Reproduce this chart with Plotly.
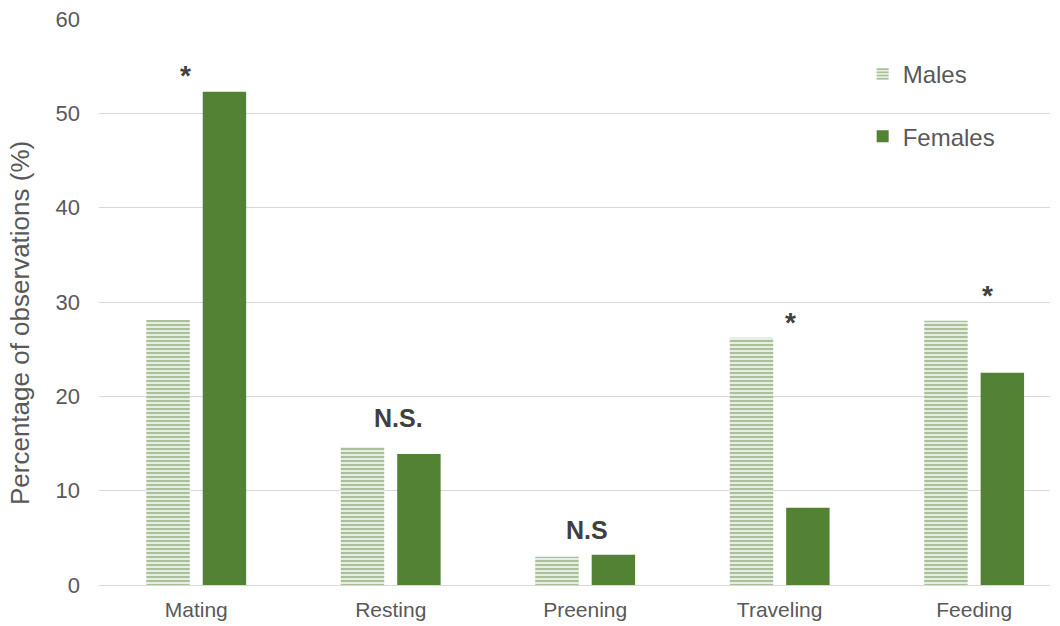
import plotly.graph_objects as go

categories = ["Mating", "Resting", "Preening", "Traveling", "Feeding"]
males = [28.1, 14.6, 3.0, 26.2, 28.0]
females = [52.3, 13.9, 3.2, 8.2, 22.5]
sig_labels = ["*", "N.S.", "N.S", "*", "*"]
sig_y = [54.3, 17.7, 5.8, 28.1, 31.0]
sig_dx = [-0.057, 0.04, 0.01, 0.054, 0.07]
y_ticks = [0, 10, 20, 30, 40, 50, 60]

green = "#548235"
txt = "#595959"
font = "Liberation Sans, Arial, sans-serif"

fig = go.Figure()
fig.add_trace(go.Bar(
    x=categories, y=males, name="Males", legendgroup="m",
    marker=dict(color="white", line=dict(width=0),
                pattern=dict(shape="-", fgcolor=green, bgcolor="white", size=4, solidity=0.65)),
))
fig.add_trace(go.Bar(
    x=categories, y=females, name="Females", legendgroup="f",
    marker=dict(color=green, line=dict(width=0)),
))

for i, lab in enumerate(sig_labels):
    is_star = lab == "*"
    fig.add_annotation(
        x=i + sig_dx[i], y=sig_y[i], text="<b>%s</b>" % lab, showarrow=False,
        yanchor="middle", yshift=-3 if is_star else 0,
        font=dict(family=font, size=28 if is_star else 25, color="#404040"),
        xref="x", yref="y",
    )

fig.add_annotation(
    text="Percentage of observations (%)", textangle=-90, showarrow=False,
    xref="paper", yref="paper", x=-0.083, y=0.463, xanchor="center", yanchor="middle",
    font=dict(family=font, size=26, color=txt),
)

fig.update_layout(
    width=1060, height=626,
    margin=dict(l=99, r=10, t=19, b=41),
    paper_bgcolor="white", plot_bgcolor="white",
    barmode="group", bargap=0.42, bargroupgap=0.23,
    font=dict(family=font, color=txt, size=22),
    showlegend=True,
    legend=dict(x=0.803, y=0.942, xanchor="left", yanchor="top",
                font=dict(family=font, size=24, color=txt),
                tracegroupgap=28, bgcolor="rgba(0,0,0,0)"),
    xaxis=dict(range=[-0.5, 4.39], showgrid=False, showline=True, linecolor="#d9d9d9",
               linewidth=1, ticks="", ticklabelstandoff=6, automargin=False,
               tickfont=dict(size=21, color=txt), zeroline=False),
    yaxis=dict(range=[0, 60], tickvals=y_ticks, showgrid=True, gridcolor="#d9d9d9",
               gridwidth=1, zeroline=False, showline=False, ticks="", automargin=False,
               ticklabelstandoff=18, tickfont=dict(size=22, color=txt)),
)

fig.write_html("out.html")
